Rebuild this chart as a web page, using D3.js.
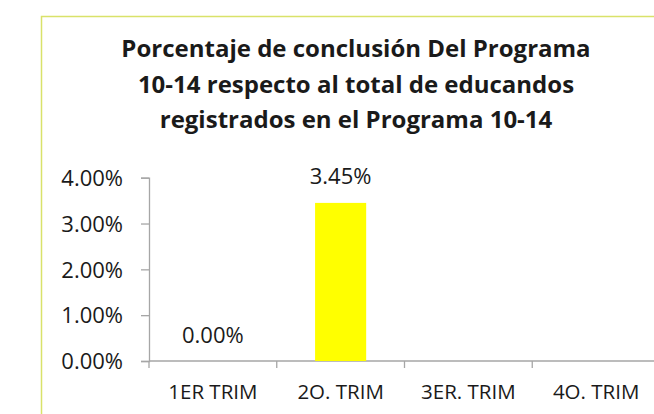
<!DOCTYPE html>
<html>
<head>
<meta charset="utf-8">
<script src="https://cdn.jsdelivr.net/npm/d3@7"></script>
<style>
  html, body { margin: 0; padding: 0; background: #fff; }
  svg { display: block; }
</style>
</head>
<body>
<svg id="chart" width="654" height="414"></svg>
<script>
// Quarterly completion rate of the 10-14 programme
const categories = ["1ER TRIM", "2O. TRIM", "3ER. TRIM", "4O. TRIM"];
const values = [0.0, 0.0345, null, null];
const yTicks = [0, 0.01, 0.02, 0.03, 0.04];
const titleLines = [
  "Porcentaje de conclusión Del Programa",
  "10-14 respecto al total de educandos",
  "registrados en el Programa 10-14"
];

const svg = d3.select("#chart");
const font = "'Open Sans', Lato, sans-serif";
const axisColor = "#a6a6a6";
const textColor = "#1a1a1a";

// chart area frame
svg.append("rect")
  .attr("x", 41.5).attr("y", 16.5)
  .attr("width", 700).attr("height", 500)
  .attr("fill", "#fff")
  .attr("stroke", "#d9e26a").attr("stroke-width", 1.5);

// title
svg.append("g").selectAll("text")
  .data(titleLines)
  .join("text")
  .attr("x", 356)
  .attr("y", (d, i) => 57 + i * 35.5)
  .attr("text-anchor", "middle")
  .attr("font-family", font)
  .attr("font-weight", "bold")
  .attr("font-size", 24)
  .attr("fill", textColor)
  .text(d => d);

const x = d3.scaleBand()
  .domain(categories)
  .range([149, 660])
  .paddingInner(0.6)
  .paddingOuter(0.3);

const y = d3.scaleLinear()
  .domain([0, 0.04])
  .range([361, 177.7]);

const fmt = d3.format(".2%");

// y axis
const yAxis = svg.append("g")
  .attr("transform", "translate(149,0)")
  .call(d3.axisLeft(y).tickValues(yTicks).tickFormat(fmt).tickSize(8).tickPadding(18));
yAxis.select(".domain").attr("stroke", axisColor).attr("stroke-width", 1.3);
yAxis.selectAll(".tick line").attr("stroke", axisColor).attr("stroke-width", 1.3);
yAxis.selectAll(".tick text")
  .attr("font-family", font).attr("font-size", 22).attr("fill", textColor)
  .attr("dy", "0.35em");

// x axis baseline with ticks between categories
const xAxisG = svg.append("g");
xAxisG.append("line")
  .attr("x1", 149).attr("x2", 660)
  .attr("y1", y(0)).attr("y2", y(0))
  .attr("stroke", axisColor).attr("stroke-width", 1.3);
const bounds = categories.map(c => x(c) - x.step() * x.paddingOuter());
xAxisG.selectAll("line.tk")
  .data(bounds)
  .join("line")
  .attr("class", "tk")
  .attr("x1", d => d).attr("x2", d => d)
  .attr("y1", y(0)).attr("y2", y(0) + 7)
  .attr("stroke", axisColor).attr("stroke-width", 1.3);
xAxisG.selectAll("text")
  .data(categories)
  .join("text")
  .attr("x", d => x(d) + x.bandwidth() / 2)
  .attr("y", 399)
  .attr("text-anchor", "middle")
  .attr("font-family", font).attr("font-size", 20.5)
  .attr("fill", textColor)
  .text(d => d);

// bars
const data = categories.map((c, i) => ({ c, v: values[i] })).filter(d => d.v !== null);
svg.append("g").selectAll("rect")
  .data(data)
  .join("rect")
  .attr("x", d => x(d.c))
  .attr("width", x.bandwidth())
  .attr("y", d => y(d.v))
  .attr("height", d => y(0) - y(d.v))
  .attr("fill", "#ffff00");

// value labels
svg.append("g").selectAll("text")
  .data(data)
  .join("text")
  .attr("x", d => x(d.c) + x.bandwidth() / 2)
  .attr("y", d => y(d.v) - 18.5)
  .attr("text-anchor", "middle")
  .attr("font-family", font).attr("font-size", 22)
  .attr("fill", textColor)
  .text(d => fmt(d.v));
</script>
</body>
</html>
